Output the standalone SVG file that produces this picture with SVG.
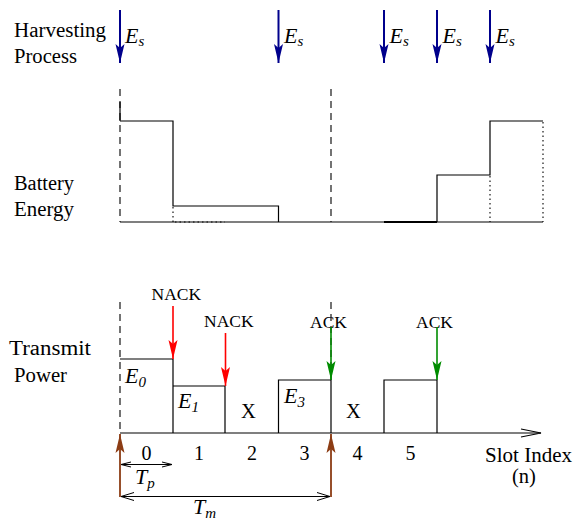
<svg xmlns="http://www.w3.org/2000/svg" width="573" height="521" viewBox="0 0 573 521">
<style>
.lbl{font-family:"Liberation Serif","Times New Roman",serif;font-size:20.5px;fill:#000}
.sm{font-family:"Liberation Serif","Times New Roman",serif;font-size:17.5px;fill:#000}
.num{font-family:"Liberation Serif","Times New Roman",serif;font-size:20px;fill:#000;text-anchor:middle}
.mi{font-family:"Liberation Serif","Times New Roman",serif;font-style:italic;font-size:22px;fill:#000}
.ln{stroke:#000;stroke-width:1.2;fill:none}
.dash{stroke:#000;stroke-width:1.1;fill:none;stroke-dasharray:7 5}
.dot{stroke:#000;stroke-width:1.1;fill:none;stroke-dasharray:1.5 3}
.hv{stroke:#00008c;stroke-width:2;fill:none}
.rd{stroke:#ff0000;stroke-width:1.6;fill:none}
.gr{stroke:#008c00;stroke-width:1.6;fill:none}
.br{stroke:#8c3c14;stroke-width:1.8;fill:none}
</style>
<defs>
<marker id="mHv" markerUnits="userSpaceOnUse" viewBox="-20 -6 21 12" refX="0" refY="0" markerWidth="21" markerHeight="12" orient="auto"><path d="M0,0 L-19,-4.5 L-15,0 L-19,4.5 Z" fill="#00008c"/></marker>
<marker id="mRd" markerUnits="userSpaceOnUse" viewBox="-20 -6 21 12" refX="0" refY="0" markerWidth="21" markerHeight="12" orient="auto"><path d="M0,0 L-19,-4.5 L-15,0 L-19,4.5 Z" fill="#ff0000"/></marker>
<marker id="mGr" markerUnits="userSpaceOnUse" viewBox="-20 -6 21 12" refX="0" refY="0" markerWidth="21" markerHeight="12" orient="auto"><path d="M0,0 L-19,-4.5 L-15,0 L-19,4.5 Z" fill="#008c00"/></marker>
<marker id="mBr" markerUnits="userSpaceOnUse" viewBox="-20 -6 21 12" refX="0" refY="0" markerWidth="21" markerHeight="12" orient="auto"><path d="M0,0 L-19,-4.5 L-15,0 L-19,4.5 Z" fill="#8c3c14"/></marker>
<marker id="mOpen" markerUnits="userSpaceOnUse" viewBox="-22 -6 23 12" refX="0" refY="0" markerWidth="23" markerHeight="12" orient="auto"><path d="M-20,-4 L0,0 L-20,4" fill="none" stroke="#000" stroke-width="1.1"/></marker>
<marker id="mSm" markerUnits="userSpaceOnUse" viewBox="-12 -5 13 10" refX="0" refY="0" markerWidth="13" markerHeight="10" orient="auto-start-reverse"><path d="M-10,-2.5 L0,0 L-10,2.5" fill="none" stroke="#000" stroke-width="1"/></marker>
<marker id="mMd" markerUnits="userSpaceOnUse" viewBox="-14 -6 15 12" refX="0" refY="0" markerWidth="15" markerHeight="12" orient="auto-start-reverse"><path d="M-13,-4 L0,0 L-13,4" fill="none" stroke="#000" stroke-width="1"/></marker>
</defs>

<g id="row-labels">
<text class="lbl" x="14" y="37" textLength="92" lengthAdjust="spacingAndGlyphs">Harvesting</text>
<text class="lbl" x="14" y="63" textLength="63" lengthAdjust="spacingAndGlyphs">Process</text>
<text class="lbl" x="14" y="190" textLength="60" lengthAdjust="spacingAndGlyphs">Battery</text>
<text class="lbl" x="14" y="216" textLength="60" lengthAdjust="spacingAndGlyphs">Energy</text>
<text class="lbl" x="9" y="355" textLength="82" lengthAdjust="spacingAndGlyphs">Transmit</text>
<text class="lbl" x="14" y="382" textLength="53" lengthAdjust="spacingAndGlyphs">Power</text>
</g>

<g id="harvesting">
<g id="es0"><line class="hv" x1="120" y1="10" x2="120" y2="63" marker-end="url(#mHv)"/><text class="mi" x="125" y="43">E<tspan font-size="15" dy="3">s</tspan></text></g>
<g id="es1"><line class="hv" x1="278.5" y1="10" x2="278.5" y2="63" marker-end="url(#mHv)"/><text class="mi" x="284" y="43">E<tspan font-size="15" dy="3">s</tspan></text></g>
<g id="es2"><line class="hv" x1="384" y1="10" x2="384" y2="63" marker-end="url(#mHv)"/><text class="mi" x="389.5" y="43">E<tspan font-size="15" dy="3">s</tspan></text></g>
<g id="es3"><line class="hv" x1="437" y1="10" x2="437" y2="63" marker-end="url(#mHv)"/><text class="mi" x="442.5" y="43">E<tspan font-size="15" dy="3">s</tspan></text></g>
<g id="es4"><line class="hv" x1="490" y1="10" x2="490" y2="63" marker-end="url(#mHv)"/><text class="mi" x="495.5" y="43">E<tspan font-size="15" dy="3">s</tspan></text></g>
</g>

<g id="battery">
<line class="dash" x1="120" y1="89" x2="120" y2="222"/>
<line class="ln" x1="120" y1="102" x2="120" y2="121"/>
<line class="dash" x1="331" y1="89" x2="331" y2="222"/>
<line class="ln" x1="120" y1="222" x2="543" y2="222"/>
<path class="ln" d="M120,121 H173 V206 H278.5 V222"/>
<line class="dot" x1="173" y1="207" x2="173" y2="222"/>
<line class="dot" x1="175" y1="222" x2="225" y2="222"/>
<line stroke="#000" stroke-width="1.8" x1="384" y1="222" x2="437" y2="222"/>
<path class="ln" d="M437,222 V175 H490 V121 H543"/>
<line class="dot" x1="490" y1="176" x2="490" y2="222"/>
<line class="dot" x1="543" y1="122" x2="543" y2="222"/>
</g>

<g id="transmit">
<line class="dash" x1="120" y1="302" x2="120" y2="433"/>
<line class="dash" x1="331" y1="302" x2="331" y2="380"/>
<g id="bar0"><path class="ln" d="M120,359 H173 V433"/><text class="mi" x="125" y="383">E<tspan font-size="15" dy="4">0</tspan></text></g>
<g id="bar1"><path class="ln" d="M173,386 H225 V433"/><text class="mi" x="178" y="408">E<tspan font-size="15" dy="4">1</tspan></text></g>
<g id="slot2"><text class="lbl" x="241" y="418" font-size="19">X</text></g>
<g id="bar3"><path class="ln" d="M278.5,433 V380 H331 V433"/><text class="mi" x="284" y="403">E<tspan font-size="15" dy="4">3</tspan></text></g>
<g id="slot4"><text class="lbl" x="346" y="418" font-size="19">X</text></g>
<g id="bar5"><path class="ln" d="M384,433 V380 H437 V433"/></g>
</g>

<g id="feedback">
<g id="nack1"><text class="sm" x="151.5" y="300">NACK</text><line class="rd" x1="173" y1="306" x2="173" y2="359" marker-end="url(#mRd)"/></g>
<g id="nack2"><text class="sm" x="204" y="327">NACK</text><line class="rd" x1="225.5" y1="333" x2="225.5" y2="386" marker-end="url(#mRd)"/></g>
<g id="ack1"><text class="sm" x="310" y="328">ACK</text><line class="gr" x1="331" y1="327" x2="331" y2="380" marker-end="url(#mGr)"/></g>
<g id="ack2"><text class="sm" x="416" y="328">ACK</text><line class="gr" x1="437" y1="327" x2="437" y2="380" marker-end="url(#mGr)"/></g>
</g>

<g id="axis">
<line class="ln" x1="120" y1="433" x2="541" y2="433" marker-end="url(#mOpen)"/>
<text class="num" x="146.5" y="460">0</text>
<text class="num" x="199" y="460">1</text>
<text class="num" x="252" y="460">2</text>
<text class="num" x="304.5" y="460">3</text>
<text class="num" x="357.5" y="460">4</text>
<text class="num" x="410.5" y="460">5</text>
<text class="lbl" x="485" y="462" textLength="87" lengthAdjust="spacingAndGlyphs">Slot Index</text>
<text class="lbl" x="524" y="483" text-anchor="middle">(n)</text>
</g>

<g id="connectors">
<line class="br" x1="120" y1="497" x2="120" y2="434" marker-end="url(#mBr)"/>
<line class="br" x1="331" y1="497" x2="331" y2="434" marker-end="url(#mBr)"/>
<line stroke="#000" stroke-width="1" x1="121" y1="464.5" x2="172" y2="464.5" marker-start="url(#mSm)" marker-end="url(#mSm)"/>
<line stroke="#000" stroke-width="1" x1="121" y1="496.5" x2="330" y2="496.5" marker-start="url(#mMd)" marker-end="url(#mMd)"/>
<text class="mi" x="135" y="484">T<tspan font-size="15" dy="4">p</tspan></text>
<text class="mi" x="193" y="514">T<tspan font-size="15" dy="4">m</tspan></text>
</g>
</svg>
